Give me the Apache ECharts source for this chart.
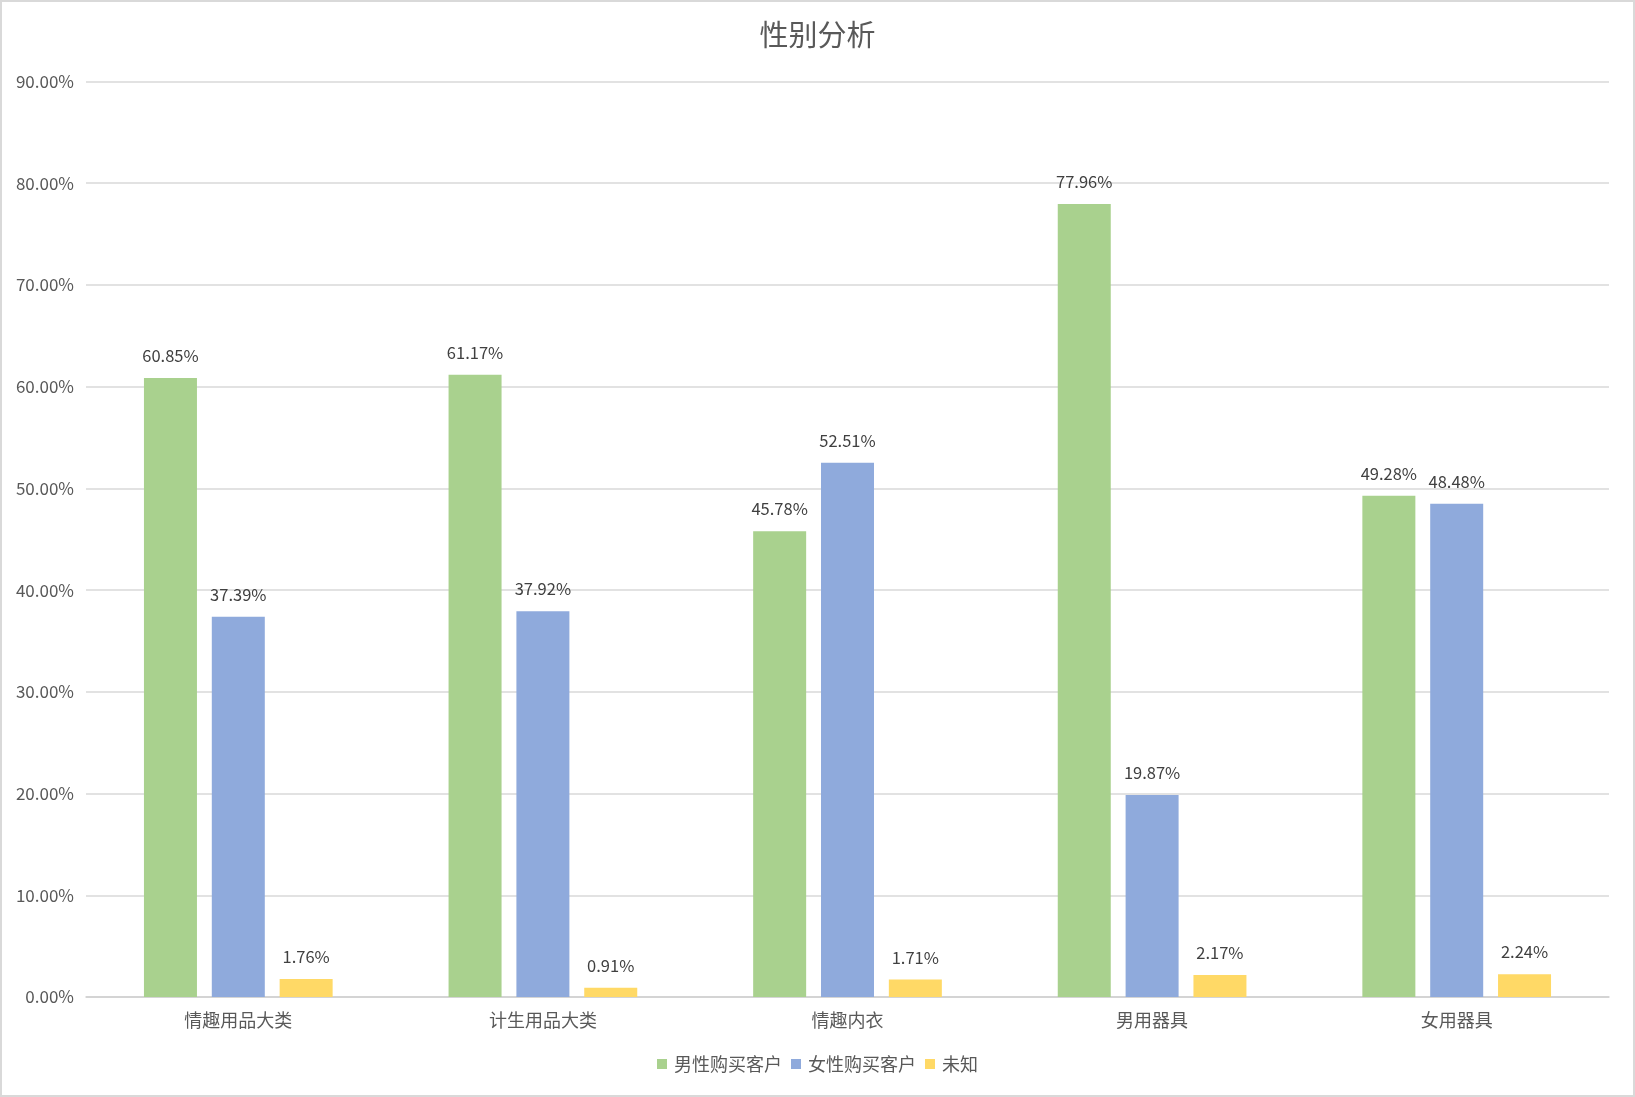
<!DOCTYPE html>
<html><head><meta charset="utf-8">
<script src="https://cdn.jsdelivr.net/npm/echarts@6/dist/echarts.min.js"></script>
<style>
html,body{margin:0;padding:0;background:#fff;}
#c{width:1635px;height:1097px;box-sizing:border-box;border:2px solid #d9d9d9;}
</style></head>
<body><div id="c"></div>
<script>
const categories = ['情趣用品大类','计生用品大类','情趣内衣','男用器具','女用器具'];
const seriesNames = ['男性购买客户','女性购买客户','未知'];
const maleValues = [60.85, 61.17, 45.78, 77.96, 49.28];
const femaleValues = [37.39, 37.92, 52.51, 19.87, 48.48];
const unknownValues = [1.76, 0.91, 1.71, 2.17, 2.24];
const colors = ['#A9D18E','#8FAADC','#FFD966'];
const font = '"Noto Sans CJK SC", "Noto Sans", sans-serif';

const chart = echarts.init(document.getElementById('c'), null, {renderer:'canvas'});
const mk = (name, data, color) => ({
  name, type:'bar', data, barWidth:53, barGap:'28%',
  itemStyle:{color},
  label:{show:true, position:'top', distance:14, formatter:p=>p.value.toFixed(2)+'%',
    color:'#404040', fontSize:16.5, fontFamily:font}
});
chart.setOption({
  animation:false,
  textStyle:{fontFamily:font},
  title:{text:'性别分析', left:'center', top:13,
    textStyle:{fontSize:29, fontWeight:'normal', color:'#595959', fontFamily:font}},
  legend:{bottom:17, itemWidth:10, itemHeight:10, itemGap:9, icon:'rect',
    data:seriesNames,
    textStyle:{fontSize:18, color:'#595959', fontFamily:font, padding:[0,0,0,2]}},
  grid:{left:84, right:24, top:79.5, bottom:98, containLabel:false},
  xAxis:{type:'category', data:categories,
    axisLine:{lineStyle:{color:'#d0d0d0', width:1.5}},
    axisTick:{show:false},
    axisLabel:{fontSize:18, color:'#595959', margin:14, fontFamily:font}},
  yAxis:{type:'value', min:0, max:90, interval:10,
    axisLine:{show:false}, axisTick:{show:false},
    splitLine:{lineStyle:{color:'#d9d9d9', width:1.5}},
    axisLabel:{formatter:v=>v.toFixed(2)+'%', fontSize:17, color:'#595959', margin:12, fontFamily:font}},
  series:[
    mk(seriesNames[0], maleValues, colors[0]),
    mk(seriesNames[1], femaleValues, colors[1]),
    mk(seriesNames[2], unknownValues, colors[2])
  ]
});
</script></body></html>
